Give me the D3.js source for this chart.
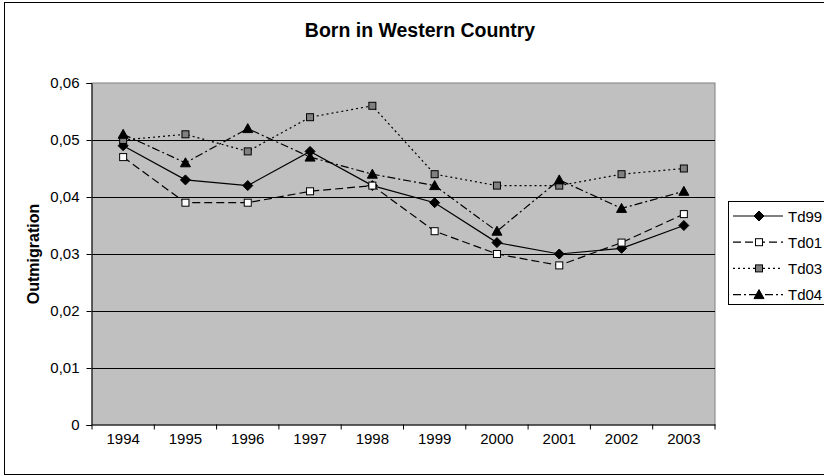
<!DOCTYPE html>
<html>
<head>
<meta charset="utf-8">
<script src="https://cdn.jsdelivr.net/npm/d3@7"></script>
<style>
  body { margin: 0; background: #fff; }
  svg { display: block; font-family: Arial, "Liberation Sans", sans-serif; }
</style>
</head>
<body>
<div id="chart"></div>
<script>
// data
const years = ['1994', '1995', '1996', '1997', '1998', '1999', '2000', '2001', '2002', '2003']
const td99 = [0.049, 0.043, 0.042, 0.048, 0.042, 0.039, 0.032, 0.030, 0.031, 0.035]
const td01 = [0.047, 0.039, 0.039, 0.041, 0.042, 0.034, 0.030, 0.028, 0.032, 0.037]
const td03 = [0.050, 0.051, 0.048, 0.054, 0.056, 0.044, 0.042, 0.042, 0.044, 0.045]
const td04 = [0.051, 0.046, 0.052, 0.047, 0.044, 0.042, 0.034, 0.043, 0.038, 0.041]
const yTicks = [0, 0.01, 0.02, 0.03, 0.04, 0.05, 0.06]

const series = [
    { name: 'Td99', values: td99, dash: null, marker: 'diamond', fill: '#000' },
    { name: 'Td01', values: td01, dash: '8,4', marker: 'square', fill: '#fff' },
    { name: 'Td03', values: td03, dash: '2,3', marker: 'square', fill: '#808080' },
    { name: 'Td04', values: td04, dash: '8,3,2,3', marker: 'triangle', fill: '#000' }
]

const W = 824, H = 476
const plot = { left: 92, top: 83, right: 715, bottom: 425 }
const FONT = 'Arial, "Liberation Sans", sans-serif'

const svg = d3.select('#chart').append('svg')
    .attr('width', W)
    .attr('height', H)

// outer chart border
svg.append('rect')
    .attr('x', 4.5).attr('y', 2.5)
    .attr('width', 830).attr('height', 472)
    .attr('fill', '#fff')
    .attr('stroke', '#000')

const x = d3.scaleBand()
    .domain(years)
    .range([plot.left, plot.right])

const y = d3.scaleLinear()
    .domain([0, 0.06])
    .range([plot.bottom, plot.top])

// plot area
svg.append('rect')
    .attr('x', plot.left).attr('y', plot.top)
    .attr('width', plot.right - plot.left)
    .attr('height', plot.bottom - plot.top)
    .attr('fill', '#c0c0c0')
    .attr('stroke', '#808080')

// gridlines
svg.append('g')
    .selectAll('line')
    .data(yTicks.filter(d => d > 0 && d < 0.06))
    .enter().append('line')
    .attr('x1', plot.left).attr('x2', plot.right)
    .attr('y1', d => Math.round(y(d)) + 0.5)
    .attr('y2', d => Math.round(y(d)) + 0.5)
    .attr('stroke', '#000')

// y axis
const yAxis = svg.append('g')
    .attr('transform', 'translate(' + (plot.left - 0.5) + ',0)')
    .call(d3.axisLeft(y)
        .tickValues(yTicks)
        .tickSize(5)
        .tickPadding(7)
        .tickFormat(d => d === 0 ? '0' : d3.format('.2f')(d).replace('.', ',')))
yAxis.select('.domain').attr('stroke', '#000')
yAxis.selectAll('line').attr('stroke', '#000')
yAxis.selectAll('text').attr('font-size', 15).attr('fill', '#000')
    .attr('font-family', FONT)

// x axis, ticks between categories
const xAxis = svg.append('g')
    .attr('transform', 'translate(0,' + (plot.bottom - 0.5) + ')')
    .call(d3.axisBottom(x).tickSize(0).tickPadding(9))
xAxis.select('.domain').attr('stroke', '#000')
xAxis.selectAll('text').attr('font-size', 15).attr('fill', '#000')
    .attr('font-family', FONT)
xAxis.selectAll('.sep')
    .data(years)
    .enter().append('line')
    .attr('class', 'sep')
    .attr('x1', d => x(d) + x.bandwidth()).attr('x2', d => x(d) + x.bandwidth())
    .attr('y1', 0).attr('y2', 5)
    .attr('stroke', '#000')
xAxis.append('line')
    .attr('x1', plot.left).attr('x2', plot.left)
    .attr('y1', 0).attr('y2', 5)
    .attr('stroke', '#000')

// title + axis title
svg.append('text')
    .attr('x', 420).attr('y', 37)
    .attr('text-anchor', 'middle')
    .attr('font-size', 19.5)
    .attr('font-weight', 'bold')
    .text('Born in Western Country')

svg.append('text')
    .attr('transform', 'translate(39,254) rotate(-90)')
    .attr('text-anchor', 'middle')
    .attr('font-size', 16)
    .attr('font-weight', 'bold')
    .text('Outmigration')

function marker(sel, type, fill) {
    if (type === 'diamond') {
        sel.append('path').attr('d', 'M0,-5L5,0L0,5L-5,0Z')
            .attr('fill', fill).attr('stroke', '#000')
    } else if (type === 'square') {
        sel.append('rect').attr('x', -3.5).attr('y', -3.5)
            .attr('width', 7).attr('height', 7)
            .attr('fill', fill).attr('stroke', '#000')
    } else {
        sel.append('path').attr('d', 'M0,-5L5,4L-5,4Z')
            .attr('fill', fill).attr('stroke', '#000')
    }
}

const line = d3.line()
    .x((d, i) => x(years[i]) + x.bandwidth() / 2)
    .y(d => y(d))

series.forEach(s => {
    svg.append('path')
        .datum(s.values)
        .attr('d', line)
        .attr('fill', 'none')
        .attr('stroke', '#000')
        .attr('stroke-width', 1.2)
        .attr('stroke-dasharray', s.dash)

    svg.append('g').selectAll('g')
        .data(s.values)
        .enter().append('g')
        .attr('transform', (d, i) => 'translate(' + (x(years[i]) + x.bandwidth() / 2) + ',' + y(d) + ')')
        .each(function () { marker(d3.select(this), s.marker, s.fill) })
})

// legend
svg.append('rect')
    .attr('x', 728.5).attr('y', 201.5)
    .attr('width', 110).attr('height', 103)
    .attr('fill', '#fff')
    .attr('stroke', '#000')
const legend = svg.append('g')

series.forEach((s, i) => {
    const ly = 216 + i * 26.2
    const g = legend.append('g').attr('transform', 'translate(0,' + ly + ')')
    g.append('line')
        .attr('x1', 733).attr('x2', 783)
        .attr('y1', 0).attr('y2', 0)
        .attr('stroke', '#000')
        .attr('stroke-width', 1.2)
        .attr('stroke-dasharray', s.dash)
    const m = g.append('g').attr('transform', 'translate(759,0)')
    marker(m, s.marker, s.fill)
    g.append('text')
        .attr('x', 788).attr('y', 5.5)
        .attr('font-size', 15)
        .attr('font-family', FONT)
        .text(s.name)
})
</script>
</body>
</html>
